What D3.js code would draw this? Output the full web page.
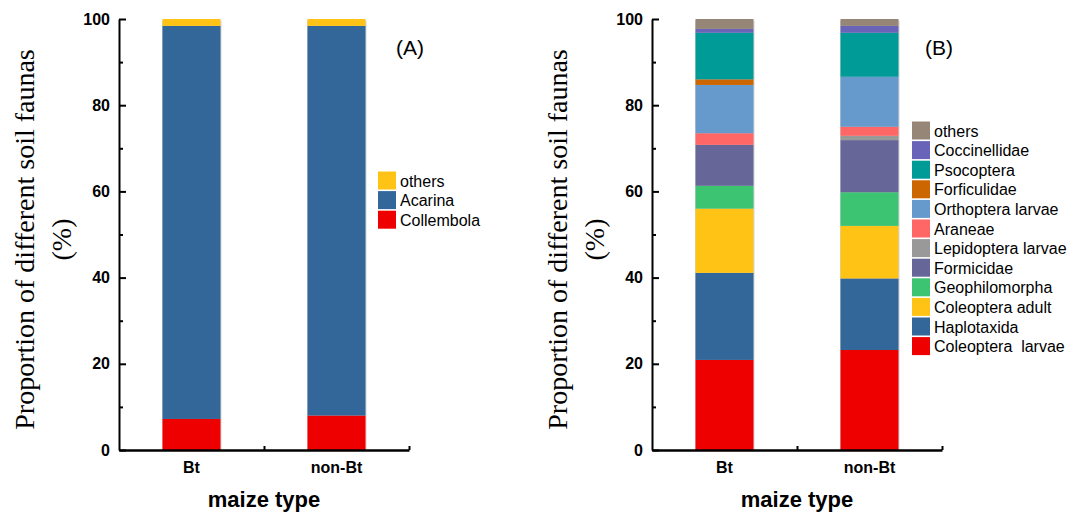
<!DOCTYPE html>
<html>
<head>
<meta charset="utf-8">
<script src="https://cdn.jsdelivr.net/npm/d3@7"></script>
<style>
  html, body { margin: 0; padding: 0; background: #fff; }
  svg { display: block; }
  text { white-space: pre; }
</style>
</head>
<body>
<svg id="chart" width="1078" height="515"></svg>
<script>
// Maize types on the x axis
const maizeTypes = ["Bt", "non-Bt"];

// Panel A: major groups (bottom to top), percent of individuals
const groupsA = ["Collembola", "Acarina", "others"];
const colorsA = ["#ee0000", "#336699", "#ffc316"];
const btA     = [7.2, 91.2, 1.6];
const nonBtA  = [8.0, 90.4, 1.6];

// Panel B: remaining taxa (bottom to top), percent of individuals
const groupsB = ["Coleoptera  larvae", "Haplotaxida", "Coleoptera adult", "Geophilomorpha",
  "Formicidae", "Lepidoptera larvae", "Araneae", "Orthoptera larvae", "Forficulidae",
  "Psocoptera", "Coccinellidae", "others"];
const colorsB = ["#ee0000", "#336699", "#ffc316", "#3dc472", "#666699", "#999999",
  "#ff6666", "#6699cc", "#cc6600", "#009a97", "#6a64b9", "#958678"];
const btB     = [20.9, 20.2, 14.9, 5.3, 9.5, 0.0, 2.7, 11.2, 1.3, 10.8, 0.9, 2.3];
const nonBtB  = [23.2, 16.6, 12.2, 7.8, 12.1, 1.0, 2.1, 11.6, 0.0, 10.2, 1.6, 1.6];

const yTicks = [0, 20, 40, 60, 80, 100];
const yTitle = ["Proportion of different soil faunas", "(%)"];
const xTitle = "maize type";

const svg = d3.select("#chart");
const plotTop = 19, plotBottom = 450, plotW = 290;
const sans = "Liberation Sans, Arial, sans-serif";

function drawPanel(left, tag, tagX, groups, colors, seriesByType, legendPos) {
  const g = svg.append("g");
  const x = d3.scaleBand().domain(maizeTypes).range([left, left + plotW])
    .paddingInner(0.6).paddingOuter(0.3);
  const xLin = d3.scaleLinear().domain([0, 2]).range([left, left + plotW]);
  const y = d3.scaleLinear().domain([0, 100]).range([plotBottom, plotTop]);

  // stacked bars
  maizeTypes.forEach((t, ti) => {
    const vals = seriesByType[ti];
    const stacked = [];
    let acc = 0;
    vals.forEach((v, i) => { stacked.push({ k: groups[i], c: colors[i], y0: acc, y1: acc + v }); acc += v; });
    // soft shadow behind the column
    g.append("rect")
      .attr("x", x(t) - 0.5).attr("width", x.bandwidth() + 1.5)
      .attr("y", y(acc) + 1.5).attr("height", y(0) - y(acc) - 1.5)
      .attr("fill", "#b8b8b8").attr("opacity", 0.6);
    g.selectAll(null).data(stacked.filter(d => d.y1 > d.y0)).enter().append("rect")
      .attr("x", x(t)).attr("width", x.bandwidth())
      .attr("y", d => y(d.y1)).attr("height", d => y(d.y0) - y(d.y1))
      .attr("fill", d => d.c);
  });

  // y axis: major ticks with labels, minor ticks between
  const yAxis = g.append("g").attr("transform", `translate(${left},0)`)
    .call(d3.axisLeft(y).tickValues(yTicks).tickSizeInner(-7).tickSizeOuter(0).tickPadding(9));
  yAxis.selectAll("text").attr("font-family", sans)
    .attr("font-weight", "bold").attr("font-size", 16).attr("fill", "#000");
  g.append("g").attr("transform", `translate(${left},0)`)
    .call(d3.axisLeft(y).tickValues(d3.range(10, 100, 20)).tickSizeInner(-4).tickSizeOuter(0).tickFormat(""))
    .select(".domain").remove();
  g.selectAll(".tick line").attr("stroke", "#000").attr("stroke-width", 2);
  yAxis.select(".domain").attr("stroke", "#000").attr("stroke-width", 2);

  // x axis line with inward ticks between and at the end
  const xAxis = g.append("g").attr("transform", `translate(0,${plotBottom})`)
    .call(d3.axisBottom(xLin).tickValues([1, 2]).tickSizeInner(-4).tickSizeOuter(0).tickFormat(""));
  xAxis.select(".domain").attr("stroke", "#000").attr("stroke-width", 2.5);
  xAxis.selectAll(".tick line").attr("stroke", "#000").attr("stroke-width", 2);

  // category labels
  const xl = g.append("g").attr("transform", `translate(0,${plotBottom})`)
    .call(d3.axisBottom(x).tickSize(0).tickPadding(12));
  xl.select(".domain").remove();
  xl.selectAll("text").attr("font-family", sans)
    .attr("font-weight", "bold").attr("font-size", 16).attr("fill", "#000");

  // x title
  g.append("text").attr("x", left + plotW / 2).attr("y", 507).attr("text-anchor", "middle")
    .attr("font-family", sans).attr("font-weight", "bold")
    .attr("font-size", 22).text(xTitle);

  // y title, two rotated lines
  const cy = (plotTop + plotBottom) / 2 + 5;
  [left - 85, left - 48].forEach((bx, i) => {
    g.append("text").attr("transform", `translate(${bx},${cy}) rotate(-90)`)
      .attr("text-anchor", "middle").attr("font-family", "Liberation Serif, Times New Roman, serif")
      .attr("font-size", 28).text(yTitle[i]);
  });

  // panel tag
  g.append("text").attr("x", tagX).attr("y", 55).attr("text-anchor", "middle")
    .attr("font-family", sans).attr("font-size", 21).text(tag);

  // legend, top entry is the last stacked group
  const rowH = 19.6;
  const entries = groups.map((k, i) => ({ k, c: colors[i] })).reverse();
  const lg = g.append("g").attr("transform", `translate(${legendPos.x},${legendPos.y})`);
  entries.forEach((e, i) => {
    lg.append("rect").attr("x", 0).attr("y", i * rowH).attr("width", 18).attr("height", 18).attr("fill", e.c);
    lg.append("text").attr("x", 22).attr("y", i * rowH + 15)
      .attr("font-family", sans).attr("font-size", 16).text(e.k);
  });
}

drawPanel(119, "(A)", 410, groupsA, colorsA, [btA, nonBtA], { x: 378, y: 171.5 });
drawPanel(652, "(B)", 939, groupsB, colorsB, [btB, nonBtB], { x: 912, y: 121.5 });
</script>
</body>
</html>
